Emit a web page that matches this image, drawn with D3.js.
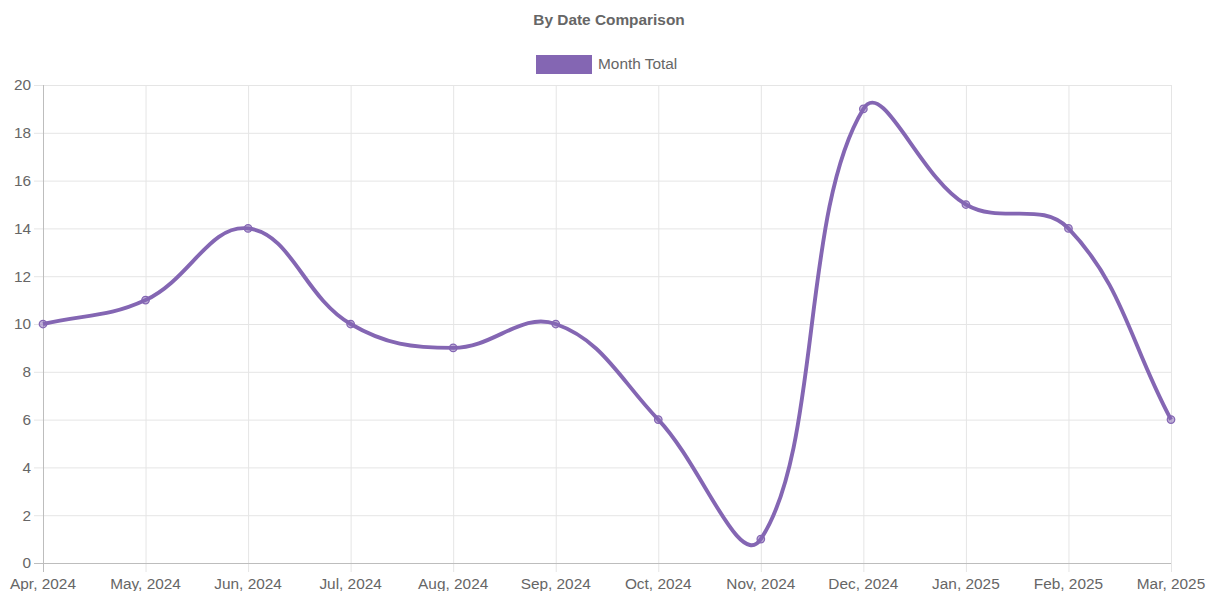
<!DOCTYPE html>
<html>
<head>
<meta charset="utf-8">
<script src="https://cdn.jsdelivr.net/npm/d3@7/dist/d3.min.js"></script>
<style>
  body { margin: 0; background: #fff; }
  svg { display: block; font-family: "Liberation Sans", Arial, sans-serif; }
</style>
</head>
<body>
<svg id="chart" width="1209" height="591"></svg>
<script>
var months = ["Apr, 2024", "May, 2024", "Jun, 2024", "Jul, 2024", "Aug, 2024", "Sep, 2024",
              "Oct, 2024", "Nov, 2024", "Dec, 2024", "Jan, 2025", "Feb, 2025", "Mar, 2025"];
var monthTotal = [10, 11, 14, 10, 9, 10, 6, 1, 19, 15, 14, 6];
var yTicks = [0, 2, 4, 6, 8, 10, 12, 14, 16, 18, 20];

var LINE_COLOR = "#8466b3";
var TEXT_COLOR = "#666";
var FONT_SIZE = 15.4;
var plotLeft = 43, plotRight = 1171, plotTop = 85, plotBottom = 563;

var svg = d3.select("#chart");

var x = d3.scalePoint().domain(months).range([plotLeft, plotRight]);
var y = d3.scaleLinear().domain([0, 20]).range([plotBottom, plotTop]);

// grid
svg.append("g").selectAll("line")
    .data(yTicks)
    .enter().append("line")
    .attr("x1", plotLeft - 9).attr("x2", plotRight)
    .attr("y1", d => y(d) + 0.5).attr("y2", d => y(d) + 0.5)
    .attr("stroke", "#e5e5e5").attr("stroke-width", 1);

svg.append("g").selectAll("line")
    .data(months)
    .enter().append("line")
    .attr("x1", d => x(d) + 0.5).attr("x2", d => x(d) + 0.5)
    .attr("y1", plotTop).attr("y2", plotBottom + 9)
    .attr("stroke", "#e5e5e5").attr("stroke-width", 1);

// axis lines
svg.append("line")
    .attr("x1", plotLeft + 0.5).attr("x2", plotLeft + 0.5)
    .attr("y1", plotTop).attr("y2", plotBottom + 9)
    .attr("stroke", "#bdbdbd");
svg.append("line")
    .attr("x1", plotLeft - 9).attr("x2", plotRight)
    .attr("y1", plotBottom + 0.5).attr("y2", plotBottom + 0.5)
    .attr("stroke", "#bdbdbd");

// tick labels
svg.append("g").selectAll("text")
    .data(yTicks)
    .enter().append("text")
    .attr("x", plotLeft - 12).attr("y", d => y(d))
    .attr("dy", "0.35em")
    .attr("text-anchor", "end")
    .attr("font-size", FONT_SIZE).attr("fill", TEXT_COLOR)
    .text(d => d);

svg.append("g").selectAll("text")
    .data(months)
    .enter().append("text")
    .attr("x", d => x(d)).attr("y", plotBottom + 26)
    .attr("text-anchor", "middle")
    .attr("font-size", FONT_SIZE).attr("fill", TEXT_COLOR)
    .text(d => d);

// title + legend
svg.append("text")
    .attr("x", 609).attr("y", 25)
    .attr("text-anchor", "middle")
    .attr("font-size", FONT_SIZE).attr("font-weight", "bold").attr("fill", TEXT_COLOR)
    .text("By Date Comparison");

svg.append("rect")
    .attr("x", 536).attr("y", 55).attr("width", 56).attr("height", 19)
    .attr("fill", LINE_COLOR);
svg.append("text")
    .attr("x", 598).attr("y", 64).attr("dy", "0.35em")
    .attr("font-size", FONT_SIZE).attr("fill", TEXT_COLOR)
    .text("Month Total");

// chart.js style spline (tension 0.4)
var pts = monthTotal.map((v, i) => [x(months[i]), y(v)]);
function splinePath(p, t) {
    var ctrl = p.map(function(cur, i) {
        var prev = p[i - 1] || cur, next = p[i + 1] || cur;
        var d01 = Math.hypot(cur[0] - prev[0], cur[1] - prev[1]);
        var d12 = Math.hypot(next[0] - cur[0], next[1] - cur[1]);
        var s01 = d01 / (d01 + d12) || 0, s12 = d12 / (d01 + d12) || 0;
        var fa = t * s01, fb = t * s12;
        return {
            prev: [cur[0] - fa * (next[0] - prev[0]), cur[1] - fa * (next[1] - prev[1])],
            next: [cur[0] + fb * (next[0] - prev[0]), cur[1] + fb * (next[1] - prev[1])]
        };
    });
    var path = d3.path();
    path.moveTo(p[0][0], p[0][1]);
    for (var i = 1; i < p.length; i++) {
        var c1 = ctrl[i - 1].next, c2 = ctrl[i].prev;
        path.bezierCurveTo(c1[0], c1[1], c2[0], c2[1], p[i][0], p[i][1]);
    }
    return path.toString();
}

svg.append("path")
    .attr("d", splinePath(pts, 0.4))
    .attr("fill", "none")
    .attr("stroke", LINE_COLOR)
    .attr("stroke-width", 3.9)
    .attr("stroke-linejoin", "round");

svg.append("g").selectAll("circle")
    .data(pts)
    .enter().append("circle")
    .attr("cx", d => d[0]).attr("cy", d => d[1])
    .attr("r", 3.75)
    .attr("fill", "rgba(132,102,179,0.5)")
    .attr("stroke", LINE_COLOR)
    .attr("stroke-width", 1.25);
</script>
</body>
</html>
